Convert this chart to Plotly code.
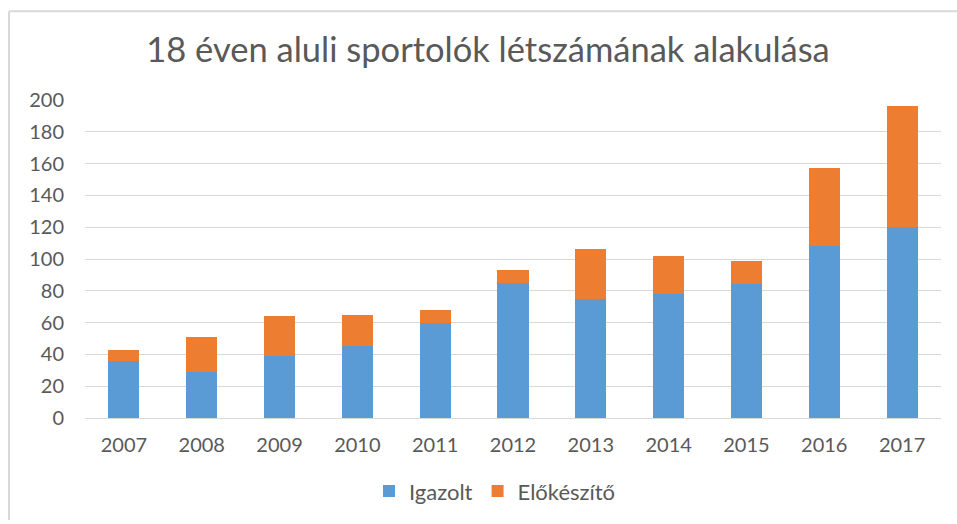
import plotly.graph_objects as go

years = ["2007", "2008", "2009", "2010", "2011", "2012", "2013", "2014", "2015", "2016", "2017"]
igazolt = [36, 29, 39, 45, 60, 85, 75, 78, 84, 108, 120]
elokeszito = [7, 22, 25, 20, 8, 8, 31, 24, 15, 49, 76]
y_ticks = [0, 20, 40, 60, 80, 100, 120, 140, 160, 180, 200]

FONT = "Lato"
TXT = "#595959"

fig = go.Figure()
fig.add_trace(go.Bar(x=years, y=igazolt, name="Igazolt",
                     marker=dict(color="#5B9BD5", line=dict(width=0))))
fig.add_trace(go.Bar(x=years, y=elokeszito, name="Előkészítő",
                     marker=dict(color="#ED7D31", line=dict(width=0))))

W, H = 957, 524
L, R, T, B = 85, 16, 100, 103
pw = W - L - R
ph = H - T - B

def px_x(px):
    return (px - L) / pw

def px_y(py):
    return (H - B - py) / ph

fig.update_layout(
    width=W, height=H,
    margin=dict(l=L, r=R, t=T, b=B),
    barmode="stack",
    bargap=0.6,
    paper_bgcolor="white",
    plot_bgcolor="white",
    font=dict(family=FONT, color=TXT, size=20),
    title=dict(text="18 éven aluli sportolók létszámának alakulása",
               x=488 / W, xref="container", xanchor="center",
               y=1 - 50 / H, yref="container", yanchor="middle",
               font=dict(family=FONT, size=34.5, color=TXT)),
    legend=dict(orientation="h", x=px_x(495), xanchor="center",
                y=px_y(495), yanchor="middle",
                font=dict(family=FONT, size=22, color=TXT),
                traceorder="normal", itemwidth=30),
    xaxis=dict(showgrid=False, showline=False, ticks="",
               tickfont=dict(size=20, color=TXT), ticklabelstandoff=13),
    yaxis=dict(range=[0, 200], tickvals=y_ticks, showgrid=True,
               gridcolor="#D9D9D9", gridwidth=1, zeroline=True,
               zerolinecolor="#D9D9D9", zerolinewidth=1, showline=False,
               ticks="", tickfont=dict(size=20, color=TXT),
               ticklabelstandoff=20),
    shapes=[
        dict(type="line", xref="paper", yref="paper",
             x0=px_x(9), x1=px_x(9), y0=px_y(H), y1=px_y(10.5),
             line=dict(color="#D9D9D9", width=2)),
        dict(type="line", xref="paper", yref="paper",
             x0=px_x(9), x1=px_x(W), y0=px_y(10.5), y1=px_y(10.5),
             line=dict(color="#D9D9D9", width=2)),
    ],
)

fig.write_html("out.html",
               config={"displayModeBar": False},
               post_script="document.body.style.margin='0';document.body.style.overflow='hidden';")
